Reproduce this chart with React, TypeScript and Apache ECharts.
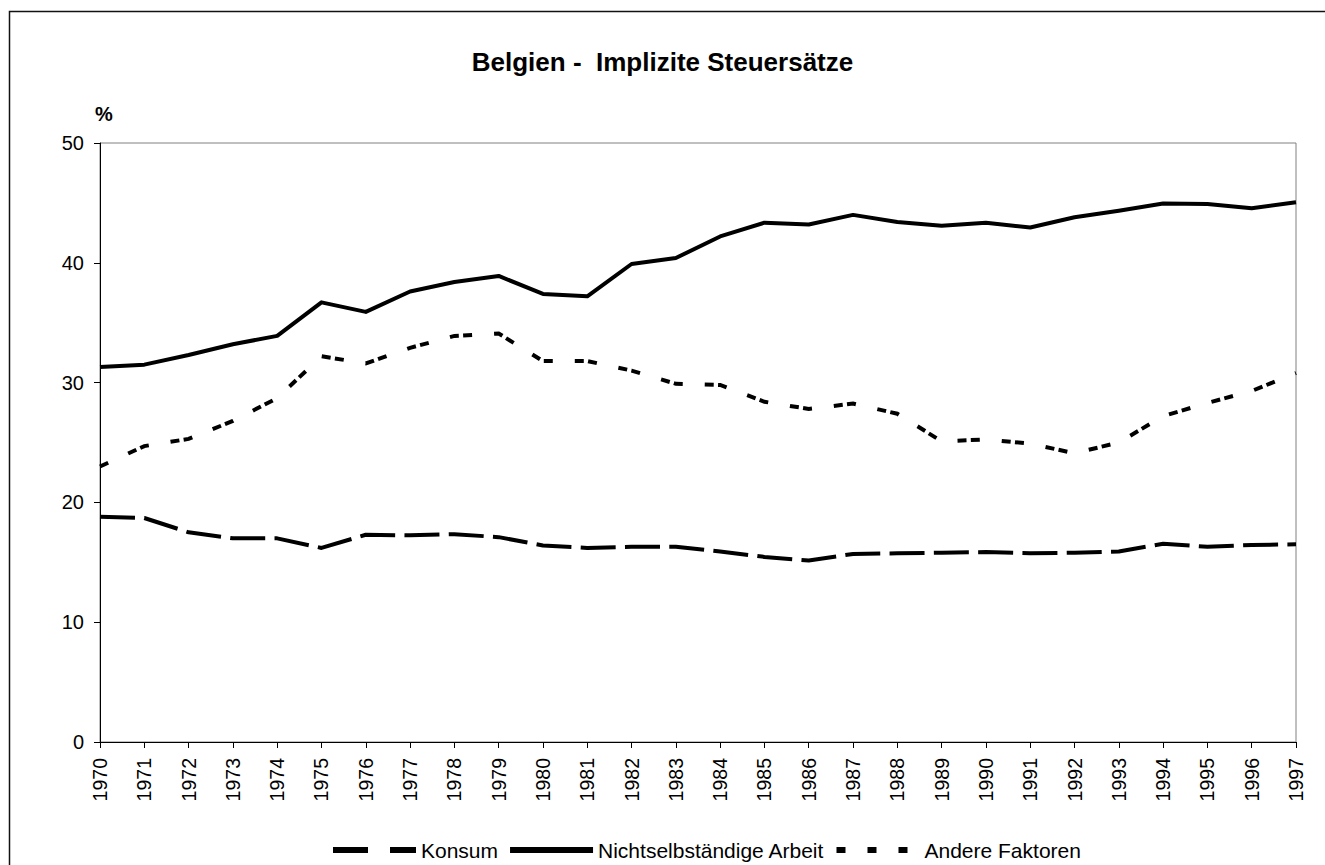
import React, { useEffect, useRef } from "react";
import * as echarts from "echarts";

const years = [
  "1970", "1971", "1972", "1973", "1974", "1975", "1976", "1977", "1978", "1979",
  "1980", "1981", "1982", "1983", "1984", "1985", "1986", "1987", "1988", "1989",
  "1990", "1991", "1992", "1993", "1994", "1995", "1996", "1997",
];

const konsum = [
  18.8, 18.7, 17.5, 17.0, 17.0, 16.2, 17.3, 17.25, 17.35, 17.1,
  16.4, 16.2, 16.3, 16.3, 15.9, 15.45, 15.15, 15.7, 15.75, 15.8,
  15.85, 15.75, 15.8, 15.9, 16.55, 16.3, 16.45, 16.5,
];

const arbeit = [
  31.3, 31.5, 32.3, 33.2, 33.9, 36.7, 35.9, 37.6, 38.4, 38.9,
  37.4, 37.2, 39.9, 40.4, 42.2, 43.35, 43.2, 44.0, 43.4, 43.1,
  43.35, 42.95, 43.8, 44.35, 44.95, 44.9, 44.55, 45.05,
];

const andere = [
  23.0, 24.7, 25.3, 26.8, 28.7, 32.2, 31.6, 32.9, 33.9, 34.1,
  31.8, 31.8, 31.0, 29.9, 29.8, 28.4, 27.8, 28.25, 27.4, 25.1,
  25.25, 24.9, 24.1, 25.0, 27.2, 28.3, 29.3, 30.8,
];

const yTicks = { min: 0, max: 50, interval: 10 };

const FONT = "'Liberation Sans', Arial, sans-serif";

export default function App() {
  const ref = useRef<HTMLDivElement>(null);

  useEffect(() => {
    if (!ref.current) return;
    const chart = echarts.init(ref.current, undefined, { renderer: "svg" });
    chart.setOption({
      animation: false,
      backgroundColor: "#ffffff",
      textStyle: { fontFamily: FONT, color: "#000" },
      title: {
        text: "Belgien -  Implizite Steuersätze",
        left: "center",
        top: 44,
        textStyle: { fontFamily: FONT, fontSize: 26, fontWeight: "bold", color: "#000" },
      },
      graphic: [
        {
          type: "polyline",
          shape: { points: [[9.5, 900], [9.5, 11.5], [1400, 11.5]] },
          style: { fill: "none", stroke: "#111", lineWidth: 1.5 },
          silent: true,
        },
        {
          type: "text",
          x: 95,
          y: 104,
          style: { text: "%", font: `bold 20px ${FONT}`, fill: "#000", textVerticalAlign: "top" },
        },
      ],
      legend: {
        left: 330,
        top: 838,
        padding: 0,
        itemWidth: 83,
        itemHeight: 6,
        itemGap: 9,
        textStyle: { fontFamily: FONT, fontSize: 21, lineHeight: 24, color: "#000" },
        data: [
          { name: "Konsum", lineStyle: { type: [35, 22], width: 6 }, itemStyle: { opacity: 0 } },
          { name: "Nichtselbständige Arbeit", lineStyle: { width: 6 }, itemStyle: { opacity: 0 } },
          { name: "Andere Faktoren", lineStyle: { type: [9, 22], width: 6 }, itemStyle: { opacity: 0 } },
        ],
      },
      grid: {
        left: 100,
        top: 143,
        right: 29,
        bottom: 123,
        show: true,
        borderColor: "#808080",
        borderWidth: 1,
        containLabel: false,
      },
      xAxis: {
        type: "category",
        data: years,
        boundaryGap: false,
        axisLine: { lineStyle: { color: "#000", width: 1 } },
        axisTick: { show: true, length: 6, lineStyle: { color: "#000" }, interval: 0 },
        axisLabel: {
          interval: 0,
          rotate: 90,
          margin: 16,
          fontSize: 19.5,
          fontFamily: FONT,
          color: "#000",
        },
        splitLine: { show: false },
      },
      yAxis: {
        type: "value",
        min: yTicks.min,
        max: yTicks.max,
        interval: yTicks.interval,
        axisLine: { show: true, lineStyle: { color: "#000", width: 1 } },
        axisTick: { show: true, length: 6, lineStyle: { color: "#000" } },
        axisLabel: { margin: 16, fontSize: 20, fontFamily: FONT, color: "#000" },
        splitLine: { show: false },
      },
      series: [
        {
          name: "Konsum",
          type: "line",
          data: konsum,
          symbol: "none",
          lineStyle: { color: "#000", width: 4, type: [35, 9.3], join: "round" },
          itemStyle: { color: "#000" },
        },
        {
          name: "Nichtselbständige Arbeit",
          type: "line",
          data: arbeit,
          symbol: "none",
          lineStyle: { color: "#000", width: 4, join: "round" },
          itemStyle: { color: "#000" },
        },
        {
          name: "Andere Faktoren",
          type: "line",
          data: andere,
          symbol: "none",
          lineStyle: { color: "#000", width: 4, type: [9, 22, 9, 4.3], join: "miter" },
          itemStyle: { color: "#000" },
        },
      ],
    });
    return () => chart.dispose();
  }, []);

  return (
    <div
      ref={ref}
      style={{ position: "absolute", left: 0, top: 0, width: 1325, height: 865 }}
    />
  );
}
